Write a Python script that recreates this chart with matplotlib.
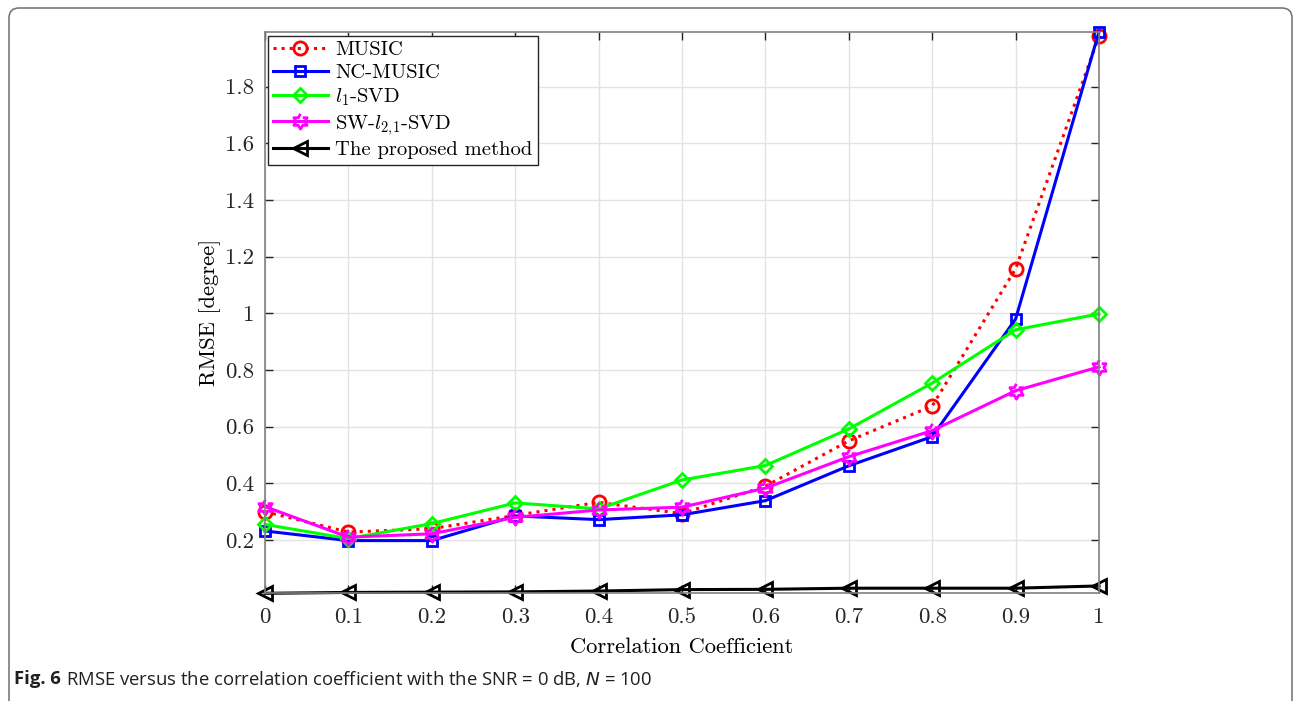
import numpy as np
import matplotlib
matplotlib.use('Agg')
import matplotlib.pyplot as plt
from matplotlib.ticker import FormatStrFormatter, MultipleLocator
from matplotlib.patches import FancyBboxPatch
from matplotlib.transforms import IdentityTransform

# data
rho = [0, 0.1, 0.2, 0.3, 0.4, 0.5, 0.6, 0.7, 0.8, 0.9, 1.0]
music = [0.30, 0.228, 0.24, 0.287, 0.333, 0.293, 0.39, 0.55, 0.673, 1.157, 1.978]
nc_music = [0.232, 0.198, 0.198, 0.285, 0.272, 0.289, 0.339, 0.462, 0.565, 0.98, 1.994]
l1_svd = [0.255, 0.205, 0.258, 0.331, 0.31, 0.412, 0.463, 0.592, 0.754, 0.942, 0.998]
sw_svd = [0.318, 0.21, 0.222, 0.28, 0.306, 0.316, 0.383, 0.494, 0.586, 0.727, 0.811]
proposed = [0.012, 0.015, 0.016, 0.017, 0.02, 0.025, 0.026, 0.03, 0.03, 0.03, 0.038]

plt.rcParams['font.family'] = 'serif'
plt.rcParams['font.serif'] = ['cmr10']
plt.rcParams['mathtext.fontset'] = 'cm'
plt.rcParams['axes.formatter.use_mathtext'] = True

# six-pointed star like matlab 'hexagram'
ang = np.pi / 2 + np.arange(12) * np.pi / 6
rad = np.where(np.arange(12) % 2 == 0, 1.0, 1 / np.sqrt(3))
hexagram = list(zip(rad * np.cos(ang), rad * np.sin(ang)))

fig = plt.figure(figsize=(12.93, 7.01), dpi=100)
ax = fig.add_axes([265 / 1293, 1 - 593.3 / 701, (1099 - 265) / 1293, (593.3 - 31.7) / 701])

lw = 2.2
kw = dict(lw=lw, mfc='none', mew=2, clip_on=False)
ax.plot(rho, music, ':', color='#ff0000', marker='o', ms=9.5, label='MUSIC', **kw)
ax.plot(rho, nc_music, '-', color='#0000ff', marker='s', ms=7.5, label='NC-MUSIC', **kw)
ax.plot(rho, l1_svd, '-', color='#00ff00', marker='D', ms=7.5, label=r'$l_1$-SVD', **kw)
ax.plot(rho, sw_svd, '-', color='#ff00ff', marker=hexagram, ms=11, label=r'SW-$l_{2,\!1}$-SVD', **kw)
ax.plot(rho, proposed, '-', color='black', marker='<', ms=10, label='The proposed method', **kw)

allv = music + nc_music + l1_svd + sw_svd + proposed
ax.set_xlim(0, 1)
ax.set_ylim(min(allv), max(allv))
ax.xaxis.set_major_locator(MultipleLocator(0.1))
ax.yaxis.set_major_locator(MultipleLocator(0.2))
ax.xaxis.set_major_formatter(FormatStrFormatter('%g'))
ax.yaxis.set_major_formatter(FormatStrFormatter('%g'))
ax.grid(True, color='#e3e3e3', lw=1)
ax.set_axisbelow(True)
ax.tick_params(direction='in', length=6, width=1, top=True, right=True,
               labelsize=16.5, colors='#262626')
ax.tick_params(axis='x', pad=10)
ax.tick_params(axis='y', pad=8)
for s in ax.spines.values():
    s.set_color('#808080')
    s.set_linewidth(1.2)

ax.set_xlabel('Correlation Coefficient', fontsize=16.2, labelpad=8)
ax.set_ylabel('RMSE [degree]', fontsize=16.2, labelpad=3)

leg = ax.legend(loc='upper left', bbox_to_anchor=(0.003, 0.993), fontsize=14.8,
                fancybox=False, framealpha=1, edgecolor='#262626',
                handlelength=2.7, handletextpad=0.35, labelspacing=0.22,
                borderpad=0.25, borderaxespad=0)
leg.get_frame().set_linewidth(1.0)

# page frame around the figure
frame = FancyBboxPatch((9, -60), 1283, 753, boxstyle='round,pad=0,rounding_size=10',
                       transform=IdentityTransform(), fill=False, ec='#6f6f6f', lw=1.1)
fig.patches.append(frame)

# caption
cap_y = 1 - 679 / 701
t1 = fig.text(14 / 1293, cap_y, 'Fig. 6', family='Open Sans', weight='bold',
              fontsize=13.3, va='center', color='#231f20')
r = fig.canvas.get_renderer()
bb = t1.get_window_extent(r)
fig.text((bb.x1 + 5) / 1293, cap_y,
         r'RMSE versus the correlation coefficient with the SNR = 0 dB, $N$ = 100',
         family='Open Sans', fontsize=13.3, va='center', color='#231f20',
         math_fontfamily='dejavusans')

fig.savefig('out.png', dpi=100)
